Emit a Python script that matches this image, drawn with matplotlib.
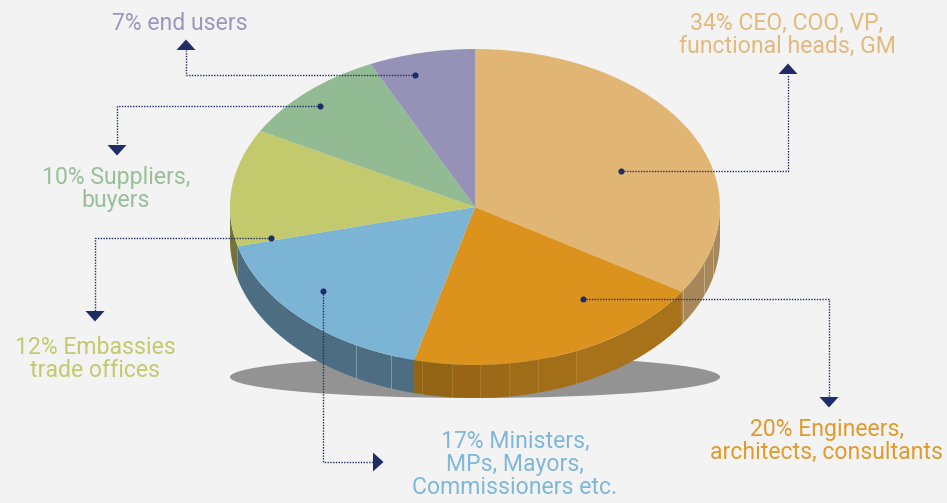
import numpy as np
import matplotlib
matplotlib.use("Agg")
import matplotlib.pyplot as plt
from matplotlib.patches import Ellipse, Polygon

plt.rcParams["font.family"] = ["Roboto", "DejaVu Sans"]

# --- data ---
values = [34, 20, 17, 12, 10, 7]
top_colors = ["#e1b675", "#db931e", "#7bb4d5", "#c3ca6e", "#92ba93", "#9691b7"]
side_colors = ["#a8885a", "#a8721a", "#4d6d82", "#76733a", "#5f7a60", "#625f78"]
text_colors = ["#e3b97c", "#e09b2e", "#7fb7d9", "#c3ca6e", "#97bf98", "#9c97bd"]
labels = [
    "34% CEO, COO, VP,\nfunctional heads, GM",
    "20% Engineers,\narchitects, consultants",
    "17% Ministers,\nMPs, Mayors,\nCommissioners etc.",
    "12% Embassies\ntrade offices",
    "10% Suppliers,\nbuyers",
    "7% end users",
]
label_pos = [(787, 35), (827, 441), (515, 464), (95, 359), (116, 189), (180, 23)]

# leader lines: dot, elbow, end of the line, arrow direction
leaders = [
    ((621, 171), (788, 171), (788, 74), "up"),
    ((583, 299), (829, 299), (829, 397), "down"),
    ((323, 291), (323, 462), (373, 462), "right"),
    ((271, 238), (95, 238), (95, 311), "down"),
    ((320, 106), (117, 106), (117, 145), "down"),
    ((415, 75), (186, 75), (186, 50), "up"),
]

# --- layout, in pixels of the picture ---
W, H = 947, 503
CX, CY, RX, RY = 475, 207, 245, 158
DEPTH = 33
BG = "#f3f3f3"
NAVY = "#1f2d66"

# facet seams on the rim, degrees clockwise from the top
seams = [104, 111, 122, 155.7, 165, 172, 178.8, 185.4, 192.5, 200, 209]

fig = plt.figure(figsize=(W / 100, H / 100), dpi=100, facecolor=BG)

ax_back = fig.add_axes([0, 0, 1, 1], zorder=0)
ax_pie = fig.add_axes([0, 0, 1, 1], zorder=1)
ax_top = fig.add_axes([0, 0, 1, 1], zorder=2)
for ax in (ax_back, ax_top):
    ax.set_xlim(0, W)
    ax.set_ylim(H, 0)
    ax.axis("off")
    ax.patch.set_alpha(0)

# ground shadow
ax_back.add_patch(Ellipse((CX, 377), 2 * RX, 42, color="#939393", lw=0))


def px(phi):
    # point on the pie rim, phi in degrees clockwise from the top
    a = np.radians(phi)
    return np.sin(a), np.cos(a)


# pie, in units of the radius so that the ellipse comes from the axes scale
ax_pie.pie(values, colors=top_colors, startangle=90, counterclock=False, radius=1, center=(0, 0))
ax_pie.set_aspect("auto")
ax_pie.set_xlim(-CX / RX, (W - CX) / RX)
ax_pie.set_ylim((CY - H) / RY, CY / RY)
ax_pie.axis("off")
ax_pie.patch.set_alpha(0)

# rim
d = DEPTH / RY
cum = np.concatenate([[0], np.cumsum(values)]) * 3.6
for i in range(len(values)):
    lo, hi = max(cum[i], 90), min(cum[i + 1], 270)
    if lo >= hi:
        continue
    phi = np.linspace(lo, hi, 80)
    x, y = px(phi)
    pts = np.column_stack([np.r_[x, x[::-1]], np.r_[y, y[::-1] - d]])
    ax_pie.add_patch(Polygon(pts, closed=True, fc=side_colors[i], ec="none", zorder=0))

# orange rim gets darker towards its left end
for lo, hi, a in [(185.4, 194.4, 0.30), (178.8, 185.4, 0.24), (172, 178.8, 0.18),
                  (165, 172, 0.13), (155.7, 165, 0.07)]:
    phi = np.linspace(lo, hi, 20)
    x, y = px(phi)
    pts = np.column_stack([np.r_[x, x[::-1]], np.r_[y, y[::-1] - d]])
    ax_pie.add_patch(Polygon(pts, closed=True, fc="#3a2600", ec="none", alpha=a * 0.6, zorder=0.1))

for s in seams:
    x, y = px(s)
    alpha = 0.3 if s < 125 or s > 195 else 0.12
    ax_pie.plot([x, x], [y, y - d], color="white", lw=0.7, alpha=alpha, zorder=0.2)

# leaders
for dot, elbow, end, arrow in leaders:
    xs = [dot[0], elbow[0], end[0]]
    ys = [dot[1], elbow[1], end[1]]
    ax_top.plot(xs, ys, color=NAVY, lw=1.0, ls=(0, (1, 1)), zorder=2)
    ax_top.plot(*dot, "o", color=NAVY, ms=4.4, mew=0, zorder=3)
    ex, ey = end
    if arrow == "up":
        tri = [(ex - 9.5, ey), (ex + 9.5, ey), (ex, ey - 10.5)]
    elif arrow == "down":
        tri = [(ex - 9.5, ey), (ex + 9.5, ey), (ex, ey + 10.5)]
    else:
        tri = [(ex, ey - 9.5), (ex, ey + 9.5), (ex + 10.5, ey)]
    ax_top.add_patch(Polygon(tri, closed=True, fc=NAVY, ec="none", zorder=3))

# labels
for lab, pos, col in zip(labels, label_pos, text_colors):
    ax_top.text(pos[0], pos[1], lab, color=col, fontsize=16.6,
                ha="center", va="center", linespacing=1.0, multialignment="center")

fig.savefig("out.png", dpi=100, facecolor=BG)
